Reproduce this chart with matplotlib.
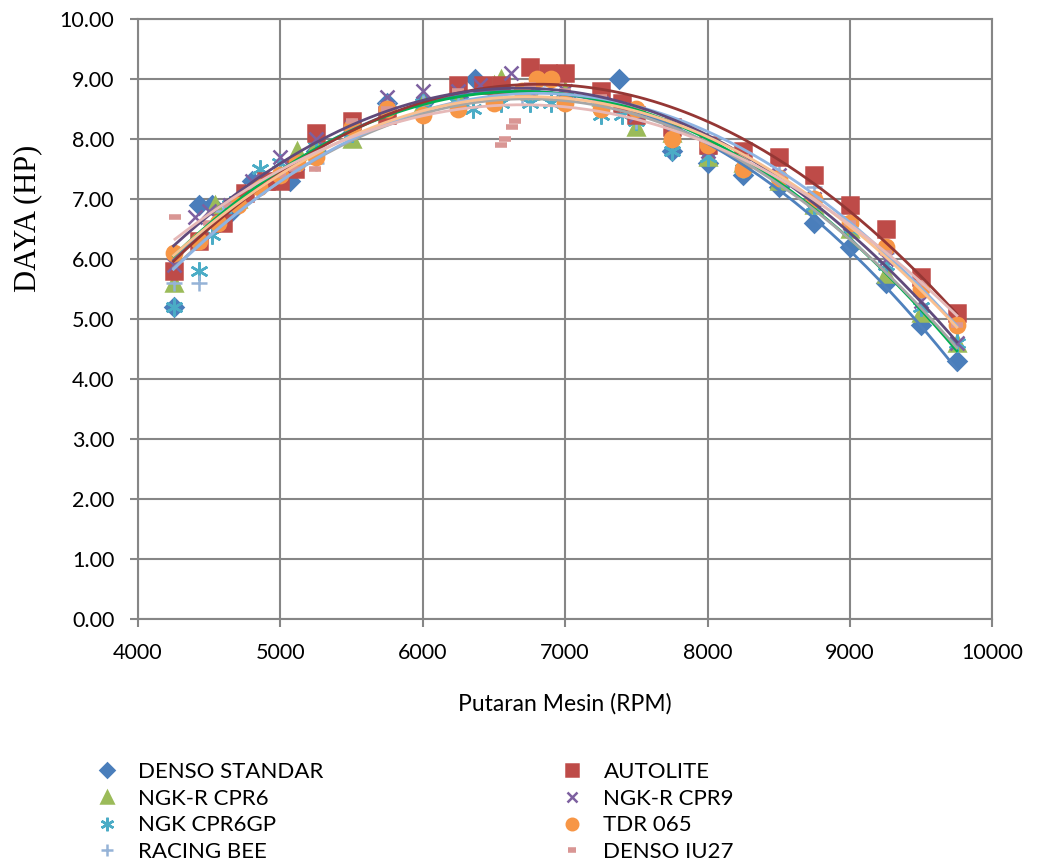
import numpy as np
import matplotlib
matplotlib.use("Agg")
import matplotlib.pyplot as plt

# data (rpm, hp) per spark plug
denso_std_rpm = [4250, 4430, 4520, 4660, 4800, 5070, 5250, 5500, 5750, 6000, 6250, 6370, 6500,
                 6750, 7000, 7380, 7750, 8000, 8250, 8500, 8750, 9000, 9250, 9500, 9750]
denso_std_hp = [5.2, 6.9, 6.9, 6.8, 7.3, 7.3, 7.8, 8.1, 8.6, 8.6, 8.7, 9.0, 8.8,
                8.8, 8.7, 9.0, 7.8, 7.6, 7.4, 7.2, 6.6, 6.2, 5.6, 4.9, 4.3]

autolite_rpm = [4250, 4430, 4600, 4750, 4900, 5000, 5100, 5250, 5500, 5750, 6250, 6420, 6550, 6750,
                6880, 7000, 7250, 7400, 7500, 7750, 8000, 8250, 8500, 8750, 9000, 9250, 9500, 9750]
autolite_hp = [5.8, 6.3, 6.6, 7.1, 7.3, 7.3, 7.5, 8.1, 8.3, 8.4, 8.9, 8.9, 8.9, 9.2,
               9.1, 9.1, 8.8, 8.6, 8.4, 8.2, 7.9, 7.8, 7.7, 7.4, 6.9, 6.5, 5.7, 5.1]

cpr6_rpm = [4250, 4540, 4700, 4850, 5120, 5250, 5500, 5750, 6000, 6250, 6500, 6550, 6750,
            7000, 7250, 7500, 7750, 8000, 8250, 8500, 8750, 9000, 9250, 9500, 9750]
cpr6_hp = [5.6, 6.9, 7.0, 7.3, 7.8, 7.9, 8.0, 8.5, 8.6, 8.7, 8.9, 9.0, 8.8,
           8.8, 8.7, 8.2, 8.1, 7.7, 7.6, 7.3, 6.9, 6.5, 5.75, 5.1, 4.6]

cpr9_rpm = [4250, 4400, 4500, 4650, 4800, 5000, 5120, 5250, 5500, 5750, 6000, 6250, 6400, 6620,
            6750, 7000, 7250, 7500, 7750, 8000, 8250, 8500, 8750, 9000, 9250, 9500, 9750]
cpr9_hp = [5.9, 6.7, 6.8, 6.9, 7.3, 7.7, 7.6, 8.0, 8.2, 8.7, 8.8, 8.8, 8.9, 9.1,
           8.8, 8.8, 8.6, 8.4, 8.1, 7.8, 7.6, 7.4, 7.0, 6.6, 6.0, 5.3, 4.6]

cpr6gp_rpm = [4250, 4430, 4520, 4650, 4860, 5000, 5250, 5500, 5750, 6000, 6250, 6350, 6550, 6750,
              6900, 7000, 7250, 7400, 7500, 7750, 8000, 8250, 8500, 8750, 9000, 9250, 9500, 9750]
cpr6gp_hp = [5.2, 5.8, 6.4, 6.9, 7.5, 7.6, 8.0, 8.1, 8.5, 8.6, 8.6, 8.5, 8.6, 8.6,
             8.6, 8.7, 8.4, 8.4, 8.3, 7.8, 7.7, 7.5, 7.3, 6.9, 6.5, 5.9, 5.2, 4.6]

tdr_rpm = [4250, 4430, 4560, 4700, 4850, 5000, 5120, 5250, 5500, 5750, 6000, 6250, 6500, 6700,
           6800, 6900, 7000, 7250, 7500, 7750, 8000, 8250, 8500, 8750, 9000, 9250, 9500, 9750]
tdr_hp = [6.1, 6.3, 6.6, 6.9, 7.2, 7.4, 7.6, 7.7, 8.2, 8.5, 8.4, 8.5, 8.6, 8.8,
          9.0, 9.0, 8.6, 8.5, 8.5, 8.0, 7.9, 7.5, 7.35, 7.0, 6.6, 6.2, 5.5, 4.9]

bee_rpm = [4250, 4430, 4600, 4750, 4900, 5100, 5250, 5500, 5750, 6000, 6250, 6500, 6700,
           6900, 7000, 7250, 7500, 7750, 8000, 8250, 8500, 8750, 9000, 9250, 9500, 9750]
bee_hp = [5.6, 5.6, 6.8, 7.1, 7.3, 7.6, 7.6, 8.2, 8.6, 8.6, 8.6, 8.7, 8.7,
          8.9, 8.7, 8.6, 8.3, 8.1, 7.9, 7.7, 7.6, 7.2, 6.7, 6.1, 5.4, 5.1]

iu27_rpm = [4260, 4500, 4650, 4800, 5000, 5100, 5240, 5500, 5750, 6000, 6250, 6550, 6580, 6630,
            6650, 6750, 7000, 7250, 7500, 7750, 8000, 8250, 8500, 8750, 9000, 9250, 9500, 9750]
iu27_hp = [6.7, 6.6, 6.9, 7.2, 7.4, 7.5, 7.5, 8.3, 8.5, 8.6, 8.8, 7.9, 8.0, 8.2,
           8.3, 8.9, 8.8, 8.7, 8.5, 8.3, 8.0, 7.7, 7.4, 7.0, 6.6, 6.1, 5.6, 4.9]

# order = legend column 1 then column 2
series = [
    ("DENSO STANDAR", denso_std_rpm, denso_std_hp, "D", 9, "#4A7EBB", "#4F81BD"),
    ("NGK-R CPR6", cpr6_rpm, cpr6_hp, "^", 11, "#9BBB59", "#00B050"),
    ("NGK CPR6GP", cpr6gp_rpm, cpr6gp_hp, (6, 2, 0), 13, "#4BACC6", "#A6A6A6"),
    ("RACING BEE", bee_rpm, bee_hp, "+", 12, "#95B3D7", "#8EB4E3"),
    ("AUTOLITE", autolite_rpm, autolite_hp, "s", 11, "#BE4B48", "#953735"),
    ("NGK-R CPR9", cpr9_rpm, cpr9_hp, "x", 10, "#7D60A0", "#604A7B"),
    ("TDR 065", tdr_rpm, tdr_hp, "o", 11, "#F79646", "#FAC090"),
    ("DENSO IU27", iu27_rpm, iu27_hp, "_", 8, "#D99694", "#E6B9B8"),
]

plt.rcParams["font.family"] = ["Lato", "DejaVu Sans"]

fig, ax = plt.subplots(figsize=(10.37, 8.67), dpi=100)
fig.subplots_adjust(left=0.133, right=0.957, top=0.978, bottom=0.286)

handles = []
for name, x, y, mk, ms, col, tcol in series:
    lw = 4 if mk == "_" else 1.8
    h, = ax.plot(x, y, linestyle="none", marker=mk, markersize=ms, color=col,
                 markeredgecolor=col, markeredgewidth=lw, label=name, zorder=3)
    handles.append(h)

# polynomial (order 2) trendlines
for name, x, y, mk, ms, col, tcol in series:
    c = np.polyfit(x, y, 2)
    xs = np.linspace(min(x), max(x), 200)
    ax.plot(xs, np.polyval(c, xs), color=tcol, lw=2, zorder=4)

ax.set_xlim(4000, 10000)
ax.set_ylim(0, 10)
ax.set_xticks(np.arange(4000, 10001, 1000))
ax.set_yticks(np.arange(0, 10.01, 1))
ax.set_yticklabels([f"{v:.2f}" for v in np.arange(0, 10.01, 1)])
ax.grid(True, color="#868686", lw=1.5)
ax.set_axisbelow(True)
for s in ax.spines.values():
    s.set_color("#868686")
    s.set_linewidth(1.5)
ax.tick_params(length=6, width=1.5, color="#868686", labelsize=15.5, pad=11)

ax.set_xlabel("Putaran Mesin (RPM)", fontsize=16.5, labelpad=22)
ax.set_ylabel("DAYA (HP)", fontsize=22, family="Liberation Serif")
ax.yaxis.set_label_coords(-0.112, 0.667)

fig.legend(handles=handles, ncol=2, loc="upper left", bbox_to_anchor=(0.071, 0.144),
           frameon=False, fontsize=16, columnspacing=10.6, handletextpad=0.8,
           labelspacing=0.3, handlelength=1.2, markerscale=0.75)

fig.savefig("out.png", dpi=100)
